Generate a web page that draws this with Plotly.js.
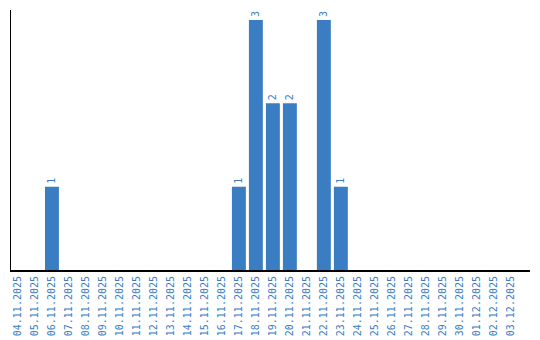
<!DOCTYPE html>
<html>
<head>
<meta charset="utf-8">
<script src="https://cdn.plot.ly/plotly-3.0.1.min.js"></script>
<style>html,body{margin:0;padding:0;background:#fff;}#chart{width:540px;height:340px;}</style>
</head>
<body>
<div id="chart"></div>
<script>
const dates = ["04.11.2025","05.11.2025","06.11.2025","07.11.2025","08.11.2025","09.11.2025","10.11.2025","11.11.2025","12.11.2025","13.11.2025","14.11.2025","15.11.2025","16.11.2025","17.11.2025","18.11.2025","19.11.2025","20.11.2025","21.11.2025","22.11.2025","23.11.2025","24.11.2025","25.11.2025","26.11.2025","27.11.2025","28.11.2025","29.11.2025","30.11.2025","01.12.2025","02.12.2025","03.12.2025"];
const counts = [0,0,1,0,0,0,0,0,0,0,0,0,0,1,3,2,2,0,3,1,0,0,0,0,0,0,0,0,0,0];
const labels = counts.map(v => v > 0 ? String(v) : "");
const blue = "#3a7dc2";

Plotly.newPlot("chart", [{
  type: "bar",
  x: dates,
  y: counts,
  marker: {color: blue},
  text: labels,
  textposition: "outside",
  textangle: -90,
  cliponaxis: false,
  textfont: {family: "DejaVu Sans Mono", size: 10, color: blue},
  hoverinfo: "none"
}], {
  width: 540, height: 340,
  margin: {l: 11, r: 10, t: 10, b: 70},
  paper_bgcolor: "#fff", plot_bgcolor: "#fff",
  bargap: 0.18,
  showlegend: false,
  xaxis: {
    type: "category",
    range: [-0.41, 30.13],
    tickangle: -90,
    tickfont: {family: "DejaVu Sans Mono", size: 10, color: blue},
    showline: true, linecolor: "#000", linewidth: 2,
    showgrid: false, zeroline: false, ticks: "", automargin: false
  },
  yaxis: {
    range: [0, 3.12],
    showline: true, linecolor: "#000", linewidth: 1,
    showgrid: false, zeroline: false, showticklabels: false, ticks: "", automargin: false
  }
}, {staticPlot: true, displayModeBar: false});
</script>
</body>
</html>
